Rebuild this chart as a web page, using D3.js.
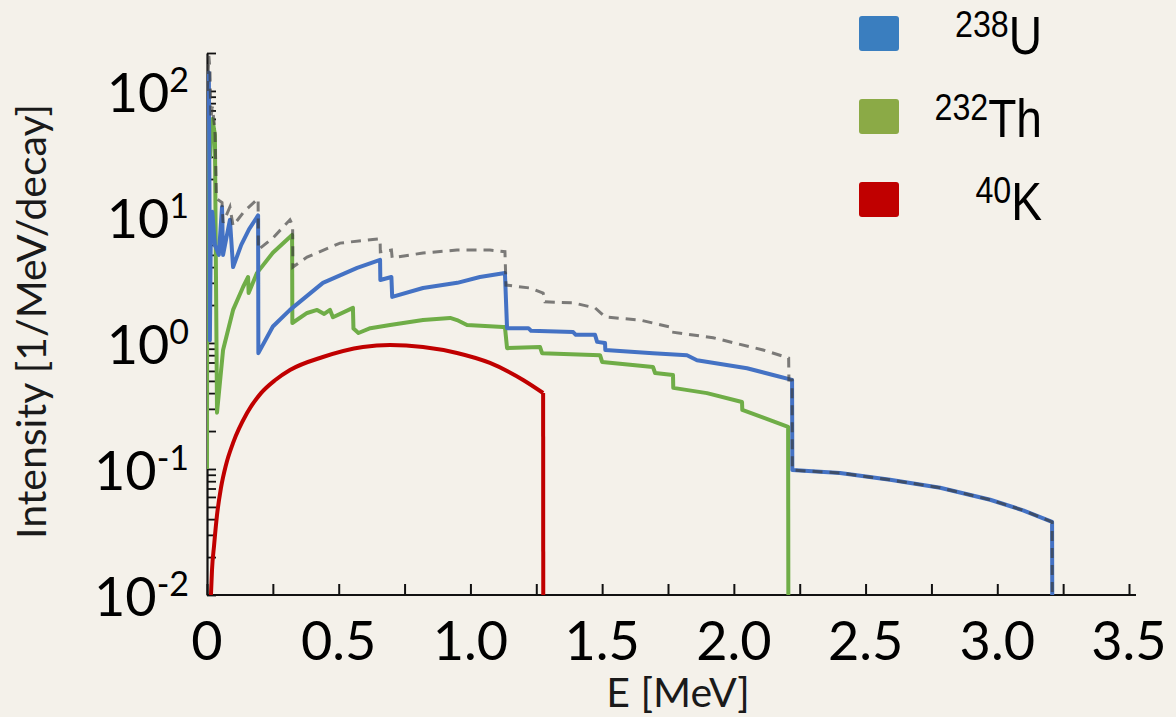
<!DOCTYPE html>
<html>
<head>
<meta charset="utf-8">
<script src="https://cdn.jsdelivr.net/npm/d3@7"></script>
<style>
  html, body { margin: 0; padding: 0; background: #F4F1EA; }
  svg { display: block; }
</style>
</head>
<body>
<div id="chart-area"></div>
<script>
// energies in MeV, intensities in 1/MeV/decay
const uE = [0.002, 0.007, 0.010, 0.011, 0.014, 0.020, 0.030, 0.045, 0.057, 0.061, 0.087, 0.099, 0.130, 0.160, 0.194, 0.195,
  0.25, 0.315, 0.44, 0.57, 0.657, 0.658, 0.700, 0.703, 0.82, 0.95, 1.036, 1.131, 1.139, 1.22, 1.23, 1.39, 1.40, 1.473, 1.481,
  1.511, 1.512, 1.693, 1.822, 1.86, 2.05, 2.149, 2.221, 2.222, 2.403, 2.593, 2.783, 2.973, 3.098, 3.208, 3.209];
const uI = [60, 140, 9, 1.05, 6, 11, 6, 5, 12, 5.0, 9.5, 4.0, 6.0, 8.0, 10.3, 0.83,
  1.35, 1.83, 3.0, 3.94, 4.56, 3.16, 3.34, 2.32, 2.73, 3.0, 3.34, 3.59, 1.31, 1.31, 1.25, 1.22, 1.16, 1.16, 1.02,
  1.0, 0.88, 0.83, 0.80, 0.73, 0.63, 0.557, 0.509, 0.098, 0.093, 0.082, 0.071, 0.057, 0.047, 0.038, 0.005];

const thE = [0, 0.001, 0.006, 0.012, 0.020, 0.030, 0.038, 0.061, 0.099, 0.137, 0.156, 0.158, 0.19, 0.25, 0.323, 0.324,
  0.38, 0.418, 0.445, 0.467, 0.478, 0.554, 0.556, 0.575, 0.62, 0.695, 0.82, 0.923, 0.949, 0.987, 1.124, 1.131, 1.139,
  1.264, 1.272, 1.492, 1.50, 1.693, 1.701, 1.769, 1.770, 1.898, 2.031, 2.032, 2.206, 2.207];
const thI = [0.1, 40, 85, 30, 60, 45, 0.28, 0.88, 1.83, 2.78, 3.34, 2.49, 3.6, 5.2, 7.2, 1.44,
  1.73, 1.83, 1.7, 1.83, 1.6, 1.9, 1.3, 1.2, 1.31, 1.39, 1.52, 1.58, 1.52, 1.39, 1.34, 1.34, 0.91,
  0.93, 0.83, 0.80, 0.707, 0.645, 0.578, 0.557, 0.44, 0.40, 0.34, 0.294, 0.216, 0.005];

// smooth K-40 arc, last point is the cut-off at the endpoint
const kE = [0.015, 0.019, 0.027, 0.038, 0.053, 0.072, 0.099, 0.152, 0.205, 0.258, 0.315, 0.44, 0.592, 0.695, 0.82, 0.949, 1.074, 1.2, 1.276, 1.2765];
const kI = [0.01, 0.0158, 0.0249, 0.0431, 0.0707, 0.1076, 0.161, 0.278, 0.40, 0.506, 0.61, 0.774, 0.929, 0.964, 0.929, 0.833, 0.694, 0.509, 0.401, 0.005];

const totE = [0.001, 0.007, 0.011, 0.015, 0.020, 0.030, 0.036, 0.057, 0.061, 0.087, 0.099, 0.14, 0.194, 0.195, 0.25, 0.315,
  0.325, 0.326, 0.38, 0.505, 0.62, 0.657, 0.658, 0.70, 0.703, 0.82, 0.949, 1.074, 1.131, 1.135, 1.226, 1.276, 1.283,
  1.39, 1.473, 1.511, 1.644, 1.758, 1.765, 1.921, 2.111, 2.208, 2.209, 2.221, 2.222, 2.403, 2.593, 2.783, 2.973, 3.098, 3.208, 3.209];
const totI = [100, 190, 150, 60, 75, 50, 14, 13, 9, 12, 8.5, 11, 14, 5.5, 6.8, 9.5,
  8.6, 4.0, 4.8, 6.2, 6.6, 6.7, 5.3, 5.46, 4.73, 5.18, 5.46, 5.46, 5.3, 2.88, 2.73, 2.49, 2.12,
  2.08, 1.9, 1.61, 1.52, 1.34, 1.22, 1.10, 0.88, 0.76, 0.509, 0.509, 0.098, 0.093, 0.082, 0.071, 0.057, 0.047, 0.038, 0.005];

const xTicks = [0, 0.25, 0.5, 0.75, 1, 1.25, 1.5, 1.75, 2, 2.25, 2.5, 2.75, 3, 3.25, 3.5];
const xLabels = ["0", "0.5", "1.0", "1.5", "2.0", "2.5", "3.0", "3.5"];
const yExponents = [-2, -1, 0, 1, 2];

const legendNames = [["238", "U"], ["232", "Th"], ["40", "K"]];
const legendColors = ["#3A7EBF", "#8BAA46", "#C00000"];

const WIDTH = 1176, HEIGHT = 717;
const PLOT = { LEFT: 207, RIGHT: 1129, TOP: 53, BOTTOM: 595 };

const svg = d3.select("#chart-area").append("svg")
  .attr("width", WIDTH).attr("height", HEIGHT);

svg.append("rect").attr("width", WIDTH).attr("height", HEIGHT).attr("fill", "#F4F1EA");

const x = d3.scaleLinear().domain([0, 3.5]).range([PLOT.LEFT, PLOT.RIGHT]);
const y = d3.scaleLog().domain([0.01, 200]).range([PLOT.BOTTOM, PLOT.TOP]);

svg.append("clipPath").attr("id", "plot-clip")
  .append("rect")
  .attr("x", PLOT.LEFT).attr("y", PLOT.TOP - 10)
  .attr("width", PLOT.RIGHT - PLOT.LEFT + 10).attr("height", PLOT.BOTTOM - PLOT.TOP + 10);

// x axis, ticks pointing up
const xAxisCall = d3.axisBottom(x)
  .tickValues(xTicks)
  .tickSizeInner(-11)
  .tickSizeOuter(0)
  .tickFormat("");
const xAxisGroup = svg.append("g")
  .attr("transform", `translate(0, ${PLOT.BOTTOM})`)
  .call(xAxisCall);
xAxisGroup.select(".domain")
  .attr("d", `M${x.range()[0]},0H${x.range()[1] + 7}`)
  .attr("stroke", "#111").attr("stroke-width", 2.2);
xAxisGroup.selectAll(".tick line").attr("stroke", "#111").attr("stroke-width", 2);

svg.append("g").selectAll("text")
  .data(xLabels)
  .join("text")
    .attr("x", (d, i) => x(i * 0.5))
    .attr("y", PLOT.BOTTOM + 65)
    .attr("text-anchor", "middle")
    .attr("font-family", "Lato, 'Open Sans', sans-serif")
    .attr("font-size", 54)
    .attr("fill", "#000")
    .text(d => d);

// y axis, log with minor ticks pointing right
const yTickVals = [];
for (let e = -2; e <= 2; e++) {
  for (let m = 1; m <= 9; m++) {
    const v = m * Math.pow(10, e);
    if (v <= 200 + 1e-9) yTickVals.push(v);
  }
}
const yAxisCall = d3.axisLeft(y)
  .tickValues(yTickVals)
  .tickSizeInner(-9)
  .tickSizeOuter(0)
  .tickFormat("");
const yAxisGroup = svg.append("g")
  .attr("transform", `translate(${PLOT.LEFT}, 0)`)
  .call(yAxisCall);
yAxisGroup.select(".domain").attr("stroke", "#111").attr("stroke-width", 2.2);
yAxisGroup.selectAll(".tick line").attr("stroke", "#111").attr("stroke-width", 1.8);

const yLab = svg.append("g").selectAll("text")
  .data(yExponents)
  .join("text")
    .attr("x", 189)
    .attr("y", d => y(Math.pow(10, d)) + 21)
    .attr("text-anchor", "end")
    .attr("font-family", "Lato, 'Open Sans', sans-serif")
    .attr("fill", "#000");
yLab.append("tspan").attr("font-size", 54).text("10");
yLab.append("tspan").attr("font-size", 34).attr("dy", -20).text(d => d < 0 ? `-${-d}` : `${d}`);

// axis titles
svg.append("text")
  .attr("transform", `translate(46, ${(95 + 548) / 2}) rotate(-90)`)
  .attr("text-anchor", "middle")
  .attr("font-family", "Lato, 'Open Sans', sans-serif")
  .attr("font-size", 41)
  .attr("fill", "#1a1a1a")
  .text("Intensity [1/MeV/decay]");

svg.append("text")
  .attr("x", 678)
  .attr("y", 707)
  .attr("text-anchor", "middle")
  .attr("font-family", "Lato, 'Open Sans', sans-serif")
  .attr("font-size", 41)
  .attr("fill", "#1a1a1a")
  .text("E [MeV]");

// spectra
const line = d3.line()
  .x(d => x(d[0]))
  .y(d => y(Math.max(d[1], 0.005)));
const smoothLine = d3.line()
  .curve(d3.curveMonotoneX)
  .x(d => x(d[0]))
  .y(d => y(Math.max(d[1], 0.005)));

const plot = svg.append("g").attr("clip-path", "url(#plot-clip)");

function drawSeries(pts, color, gen) {
  plot.append("path")
    .datum(pts)
    .attr("fill", "none")
    .attr("stroke", color)
    .attr("stroke-width", 4)
    .attr("stroke-linejoin", "round")
    .attr("d", gen);
}

// K-40: smooth arc, then the straight drop at its endpoint
const kPts = kE.map((e, i) => [e, kI[i]]);
drawSeries(kPts.slice(0, -1), "#C00000", smoothLine);
drawSeries(kPts.slice(-2), "#C00000", line);

drawSeries(thE.map((e, i) => [e, thI[i]]), "#6FAD47", line);
drawSeries(uE.map((e, i) => [e, uI[i]]), "#4472C4", line);

plot.append("path")
  .datum(totE.map((e, i) => [e, totI[i]]))
  .attr("fill", "none")
  .attr("stroke", "#3a3a3a")
  .attr("stroke-opacity", 0.65)
  .attr("stroke-width", 3)
  .attr("stroke-dasharray", "10,7")
  .attr("d", line);

// legend
const legend = svg.append("g");
const rowY = [16, 99, 182];
legend.selectAll("rect")
  .data(legendColors)
  .join("rect")
    .attr("x", 859).attr("y", (d, i) => rowY[i])
    .attr("width", 40).attr("height", 35).attr("rx", 3)
    .attr("fill", d => d);

const legText = legend.selectAll("text")
  .data(legendNames)
  .join("text")
    .attr("transform", (d, i) => `translate(1042, ${rowY[i] + 38}) scale(0.87, 1)`)
    .attr("text-anchor", "end")
    .attr("font-family", "'Liberation Sans', Arial, sans-serif")
    .attr("fill", "#000");
legText.append("tspan").attr("font-size", 37).attr("dy", -17).text(d => d[0]);
legText.append("tspan").attr("font-size", 53).attr("dy", 17).text(d => d[1]);
</script>
</body>
</html>
